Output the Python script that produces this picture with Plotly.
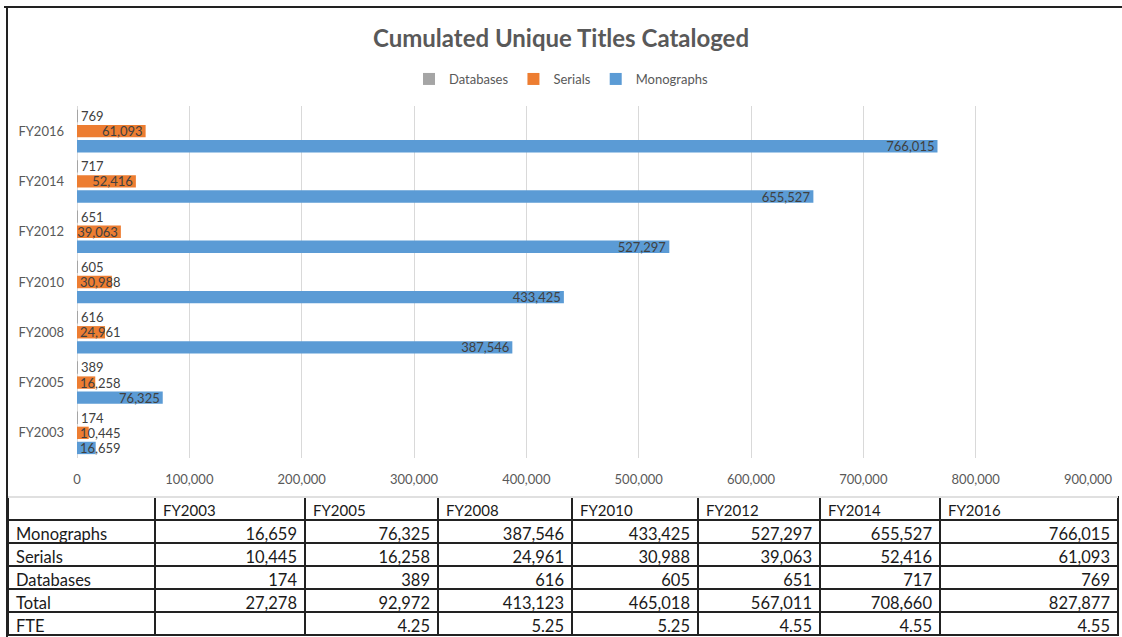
import plotly.graph_objects as go

years = ["FY2003", "FY2005", "FY2008", "FY2010", "FY2012", "FY2014", "FY2016"]
monographs = [16659, 76325, 387546, 433425, 527297, 655527, 766015]
serials = [10445, 16258, 24961, 30988, 39063, 52416, 61093]
databases = [174, 389, 616, 605, 651, 717, 769]
totals = [27278, 92972, 413123, 465018, 567011, 708660, 827877]
fte = ["", "4.25", "5.25", "5.25", "4.55", "4.55", "4.55"]
x_ticks = [0, 100000, 200000, 300000, 400000, 500000, 600000, 700000, 800000, 900000]

W, H = 1122, 637
FONT = "Lato"
GRAY = "#595959"
LABEL = "#404040"
FIT_MIN = 35000  # labels of shorter bars start at the axis (as Excel does)

fig = go.Figure()


def add_series(name, values, color, group, show_legend=True):
    long_vals = [v if v >= FIT_MIN else None for v in values]
    short_vals = [v if v < FIT_MIN else None for v in values]
    common = dict(y=years, orientation="h", marker=dict(color=color, line=dict(width=0)),
                  texttemplate="%{x:,}", textposition="inside", textangle=0,
                  constraintext="none", offsetgroup=group, legendgroup=group,
                  textfont=dict(family=FONT, size=13, color=LABEL), cliponaxis=False,
                  hoverinfo="x+y")
    fig.add_trace(go.Bar(name=name, x=long_vals, insidetextanchor="end",
                         showlegend=show_legend, **common))
    fig.add_trace(go.Bar(name=name, x=short_vals, insidetextanchor="start",
                         showlegend=False, **common))


add_series("Monographs", monographs, "#5B9BD5", "m")
add_series("Serials", serials, "#ED7D31", "s")
fig.add_trace(go.Bar(
    name="Databases", y=years, x=databases, orientation="h", offsetgroup="d", legendgroup="d",
    marker=dict(color="#A5A5A5", line=dict(width=0)),
    texttemplate="%{x:,}", textposition="outside", constraintext="none",
    textangle=0, textfont=dict(family=FONT, size=13, color=LABEL),
    cliponaxis=False,
))


def fmt(v):
    return f"{v:,}"


header_vals = [""] + years
col_label = ["Monographs", "Serials", "Databases", "Total", "FTE"]
cells = [col_label]
for i in range(len(years)):
    cells.append([fmt(monographs[i]), fmt(serials[i]), fmt(databases[i]), fmt(totals[i]), fte[i]])

fig.add_trace(go.Table(
    domain=dict(x=[8 / W, 1118 / W], y=[0, 140 / H]),
    columnwidth=[147, 150, 133, 134, 126, 122, 120, 178],
    header=dict(values=header_vals, align="left", height=23,
                fill=dict(color="white"), line=dict(color="#222222", width=1.5),
                font=dict(family=FONT, size=15, color="#1a1a1a")),
    cells=dict(values=cells, align=["left"] + ["right"] * 7, height=23,
               fill=dict(color="white"), line=dict(color="#222222", width=1.5),
               font=dict(family=FONT, size=16.5, color="#1a1a1a")),
))

fig.update_layout(
    template="none",
    width=W, height=H, autosize=False,
    margin=dict(l=0, r=0, t=0, b=0, pad=0, autoexpand=False),
    paper_bgcolor="white", plot_bgcolor="white",
    barmode="group", bargap=0.1, bargroupgap=0.18,
    title=dict(text="<b>Cumulated Unique Titles Cataloged</b>", x=0.5, xanchor="center",
               xref="paper", y=1 - 39 / H, yanchor="middle",
               font=dict(family=FONT, size=24, color=GRAY)),
    legend=dict(orientation="h", x=0.5, xanchor="center", y=1 - 79 / H, yanchor="middle",
                traceorder="reversed", font=dict(family=FONT, size=13, color=GRAY),
                itemwidth=30, bgcolor="rgba(0,0,0,0)", borderwidth=0),
    xaxis=dict(domain=[77 / W, 1088 / W], range=[0, 900000], tickvals=x_ticks,
               tickformat=",", showgrid=True, gridcolor="#D9D9D9", gridwidth=1,
               zeroline=True, zerolinecolor="#D9D9D9", zerolinewidth=1, showline=False,
               tickfont=dict(family=FONT, size=13, color=GRAY), ticks="", ticklen=0,
               ticklabelstandoff=12, fixedrange=True, automargin=False),
    yaxis=dict(domain=[(H - 458) / H, (H - 106) / H], categoryorder="array",
               categoryarray=years, tickfont=dict(family=FONT, size=13, color=GRAY),
               ticks="", showgrid=False, zeroline=False, showline=False,
               ticklabelstandoff=12, fixedrange=True, automargin=False),
    font=dict(family=FONT),
)

# chart border lines (top and left) and separator above the table
fig.add_shape(type="line", xref="paper", yref="paper", x0=4 / W, x1=1, y0=1 - 7 / H, y1=1 - 7 / H,
              line=dict(color="#222222", width=2))
fig.add_shape(type="line", xref="paper", yref="paper", x0=7 / W, x1=7 / W, y0=0, y1=1 - 7 / H,
              line=dict(color="#222222", width=2))
fig.add_shape(type="line", xref="paper", yref="paper", x0=8 / W, x1=1118 / W,
              y0=(H - 497) / H, y1=(H - 497) / H, line=dict(color="#E0E0E0", width=2))

fig.write_html("out.html", config={"displayModeBar": False},
               post_script="document.body.style.margin='0';")
